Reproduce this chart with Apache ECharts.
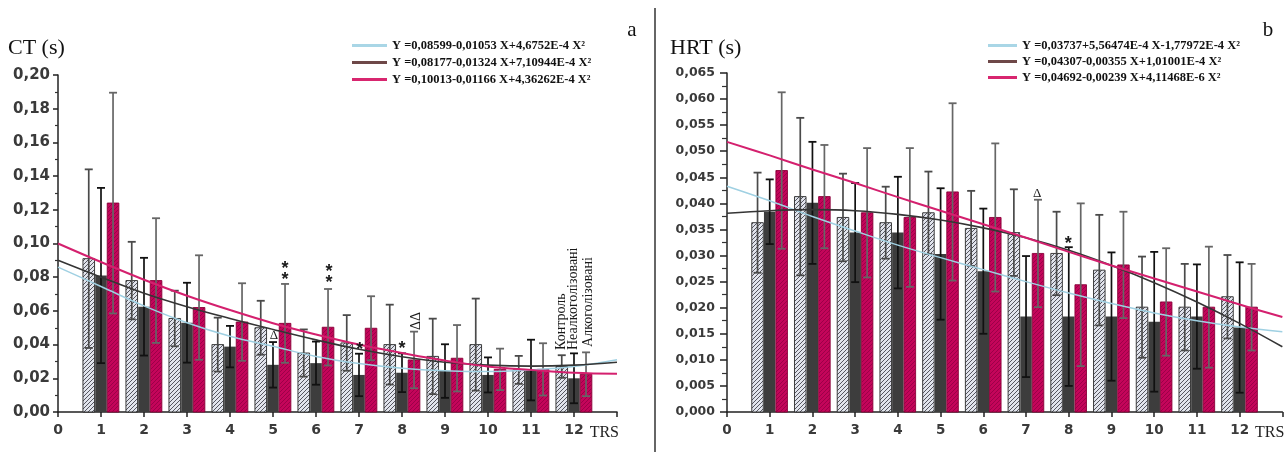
<!DOCTYPE html>
<html>
<head>
<meta charset="utf-8">
<script src="https://cdn.jsdelivr.net/npm/echarts@6/dist/echarts.min.js"></script>
<style>html,body{margin:0;padding:0;background:#fff}#c{width:1287px;height:452px}</style>
</head>
<body>
<div id="c"></div>
<script>
// ---------- data ----------
const trs = [1, 2, 3, 4, 5, 6, 7, 8, 9, 10, 11, 12];
const xTickLabels = ['0','1','2','3','4','5','6','7','8','9','10','11','12'];
const groupNames = ['Контроль', 'Неалкоголізовані', 'Алкоголізовані'];

// Panel a: CT (s)
const ctControl   = [0.091, 0.078, 0.0555, 0.040, 0.050, 0.035, 0.041, 0.040, 0.033, 0.040, 0.025, 0.027];
const ctControlSD = [0.053, 0.023, 0.0165, 0.016, 0.016, 0.014, 0.0165, 0.0237, 0.0224, 0.0273, 0.0083, 0.0067];
const ctNonAlc    = [0.081, 0.0625, 0.053, 0.0388, 0.028, 0.029, 0.022, 0.0233, 0.0243, 0.022, 0.0249, 0.020];
const ctNonAlcSD  = [0.052, 0.029, 0.0237, 0.0123, 0.0135, 0.0128, 0.0126, 0.0115, 0.0159, 0.0104, 0.018, 0.0148];
const ctAlc       = [0.124, 0.078, 0.062, 0.0534, 0.0526, 0.0503, 0.0497, 0.0309, 0.0319, 0.0253, 0.0253, 0.0224];
const ctAlcSD     = [0.0655, 0.037, 0.031, 0.023, 0.0234, 0.0227, 0.019, 0.0168, 0.0197, 0.0123, 0.0155, 0.013];

// Panel b: HRT (s)
const hrtControl   = [0.0363, 0.0413, 0.0373, 0.0363, 0.0382, 0.0352, 0.0344, 0.0304, 0.0272, 0.0201, 0.0201, 0.0221];
const hrtControlSD = [0.0096, 0.0151, 0.0084, 0.0069, 0.0079, 0.0072, 0.0083, 0.008, 0.0106, 0.0097, 0.0083, 0.008];
const hrtNonAlc    = [0.0384, 0.0401, 0.0344, 0.0344, 0.0303, 0.027, 0.0183, 0.0183, 0.0183, 0.0173, 0.0183, 0.0162];
const hrtNonAlcSD  = [0.0062, 0.0117, 0.0095, 0.0107, 0.0126, 0.012, 0.0116, 0.0133, 0.0123, 0.0134, 0.010, 0.0125];
const hrtAlc       = [0.0463, 0.0413, 0.0382, 0.0373, 0.0422, 0.0373, 0.0304, 0.0244, 0.0282, 0.0211, 0.0201, 0.0201];
const hrtAlcSD     = [0.015, 0.0099, 0.0124, 0.0133, 0.017, 0.0142, 0.0103, 0.0156, 0.0102, 0.0103, 0.0116, 0.0083];

// fitted curves at X = 0..13
const curveX = [0, 1, 2, 3, 4, 5, 6, 7, 8, 9, 10, 11, 12, 13];
const ctFitControl = [0.086, 0.0745, 0.063, 0.053, 0.045, 0.039, 0.033, 0.0288, 0.026, 0.0245, 0.024, 0.025, 0.027, 0.031];
const ctFitNonAlc  = [0.090, 0.080, 0.0705, 0.0625, 0.0555, 0.049, 0.0428, 0.0372, 0.0328, 0.0295, 0.0278, 0.0272, 0.0278, 0.0295];
const ctFitAlc     = [0.100, 0.089, 0.0785, 0.069, 0.0605, 0.0527, 0.046, 0.040, 0.035, 0.0305, 0.027, 0.025, 0.0233, 0.0227];
const hrtFitControl = [0.0433, 0.0405, 0.0375, 0.0347, 0.0320, 0.0296, 0.0273, 0.0250, 0.0228, 0.0208, 0.0190, 0.0175, 0.0163, 0.0154];
const hrtFitNonAlc  = [0.0381, 0.0386, 0.0388, 0.0386, 0.0379, 0.0368, 0.0353, 0.0334, 0.0310, 0.0281, 0.0248, 0.0211, 0.0170, 0.0125];
const hrtFitAlc     = [0.0518, 0.0492, 0.0465, 0.0439, 0.0412, 0.0386, 0.0360, 0.0334, 0.0307, 0.0281, 0.0256, 0.0231, 0.0206, 0.0182];

const legendA = ['Y =0,08599-0,01053 X+4,6752E-4 X²', 'Y =0,08177-0,01324 X+7,10944E-4 X²', 'Y =0,10013-0,01166 X+4,36262E-4 X²'];
const legendB = ['Y =0,03737+5,56474E-4 X-1,77972E-4 X²', 'Y =0,04307-0,00355 X+1,01001E-4 X²', 'Y =0,04692-0,00239 X+4,11468E-6 X²'];

// annotations: [x, y, text, kind]
const annA = [
  [5.02, 0.0455, 'Δ', 'delta'],
  [5.28, 0.0850, '*', 'star'], [5.28, 0.0785, '*', 'star'],
  [6.30, 0.0830, '*', 'star'], [6.30, 0.0768, '*', 'star'],
  [7.02, 0.0365, '*', 'star'],
  [8.00, 0.0372, '*', 'star'],
  [8.33, 0.0540, 'ΔΔ', 'deltaRot'],
  [11.71, 0.0368, groupNames[0], 'group'],
  [11.99, 0.0368, groupNames[1], 'group'],
  [12.33, 0.0386, groupNames[2], 'group']
];
const annB = [
  [7.26, 0.0419, 'Δ', 'delta'],
  [7.99, 0.0322, '*', 'star']
];

// ---------- styling helpers ----------
function hatch(bg, fg, step, lw) {
  const c = document.createElement('canvas');
  c.width = c.height = step;
  const g = c.getContext('2d');
  g.fillStyle = bg; g.fillRect(0, 0, step, step);
  g.strokeStyle = fg; g.lineWidth = lw;
  g.beginPath();
  g.moveTo(0, step); g.lineTo(step, 0);
  g.moveTo(-1, 1); g.lineTo(1, -1);
  g.moveTo(step - 1, step + 1); g.lineTo(step + 1, step - 1);
  g.stroke();
  return { image: c, repeat: 'repeat' };
}
const fillControl = hatch('#e1e4ec', '#55555f', 4, 1);
const fillAlc = hatch('#c4055a', '#9c0048', 4, 1);
const fillNonAlc = '#3d3d3d';

const BAR_W = 0.27;
const OFFS = [-0.285, 0, 0.28];

function zip3(x, m, s) { return x.map((v, i) => [v, m[i], s[i]]); }
function zip2(x, y) { return x.map((v, i) => [v, y[i]]); }

function barSeries(axis, data, k, fill, stroke, errColor) {
  return {
    type: 'custom', xAxisIndex: axis, yAxisIndex: axis, data: data, z: 2, silent: true,
    encode: { x: 0, y: 1 },
    renderItem: function (params, api) {
      const x = api.value(0) + OFFS[k], v = api.value(1), sd = api.value(2);
      const top = api.coord([x, v]), base = api.coord([x, 0]);
      const et = api.coord([x, v + sd]), eb = api.coord([x, v - sd]);
      const w = api.size([BAR_W, 0])[0];
      const cx = top[0], cap = 4;
      return {
        type: 'group',
        children: [
          { type: 'rect', shape: { x: cx - w / 2, y: top[1], width: w, height: base[1] - top[1] },
            style: { fill: fill, stroke: stroke, lineWidth: stroke ? 0.9 : 0 } },
          { type: 'line', shape: { x1: cx, y1: eb[1], x2: cx, y2: et[1] }, style: { stroke: errColor, lineWidth: 1.7 } },
          { type: 'line', shape: { x1: cx - cap, y1: et[1], x2: cx + cap, y2: et[1] }, style: { stroke: errColor, lineWidth: 1.8 } },
          { type: 'line', shape: { x1: cx - cap, y1: eb[1], x2: cx + cap, y2: eb[1] }, style: { stroke: errColor, lineWidth: 1.8 } }
        ]
      };
    }
  };
}

function curveSeries(axis, name, ys, color, width) {
  return {
    type: 'line', name: name, xAxisIndex: axis, yAxisIndex: axis, data: zip2(curveX, ys),
    smooth: 0.4, symbol: 'none', z: 6, silent: true, color: color,
    lineStyle: { color: color, width: width }
  };
}

const annFont = {
  star: 'bold 18px "Liberation Sans"',
  delta: '13px "Liberation Serif"',
  deltaRot: '14px "Liberation Serif"',
  group: '14px "Liberation Serif"'
};
function annSeries(axis, list) {
  return {
    type: 'custom', xAxisIndex: axis, yAxisIndex: axis, z: 10, silent: true,
    data: list.map(a => [a[0], a[1]]), encode: { x: 0, y: 1 },
    renderItem: function (params, api) {
      const a = list[params.dataIndex];
      const p = api.coord([a[0], a[1]]);
      const rot = (a[3] === 'group' || a[3] === 'deltaRot') ? Math.PI / 2 : 0;
      return {
        type: 'text', x: p[0], y: p[1], rotation: rot,
        style: { text: a[2], font: annFont[a[3]], fill: '#1a1a1a',
          align: a[3] === 'group' ? 'left' : 'center', verticalAlign: 'middle' }
      };
    }
  };
}

function xAxisCfg(idx, fs) {
  return {
    type: 'value', gridIndex: idx, min: 0, max: 13, interval: 1,
    name: 'TRS', nameLocation: 'end', nameGap: 0,
    nameTextStyle: { fontFamily: 'Liberation Serif', fontSize: 16, color: '#222', align: 'right', verticalAlign: 'top', padding: [13, 0, 0, 0] },
    axisLine: { show: true, onZero: false, lineStyle: { color: '#222', width: 1.5 } },
    axisTick: { show: true, length: 5, lineStyle: { color: '#222', width: 1.5 } },
    axisLabel: { margin: 11, fontFamily: 'DejaVu Sans', fontWeight: 'bold', fontSize: fs, color: '#3a3a3a',
      formatter: v => (v <= 12 ? xTickLabels[v] : '') },
    splitLine: { show: false }
  };
}
function yAxisCfg(idx, max, itv, dec, fs, tickLen, margin) {
  return {
    type: 'value', gridIndex: idx, min: 0, max: max, interval: itv,
    axisLine: { show: true, lineStyle: { color: '#222', width: 1.5 } },
    axisTick: { show: true, length: tickLen, lineStyle: { color: '#222', width: 1.5 } },
    minorTick: { show: true, splitNumber: 2, length: tickLen - 2, lineStyle: { color: '#333', width: 1.2 } },
    axisLabel: { margin: margin, fontFamily: 'DejaVu Sans', fontWeight: 'bold', fontSize: fs, color: '#3a3a3a',
      formatter: v => v.toFixed(dec).replace('.', ',') },
    splitLine: { show: false }
  };
}

const legendText = { fontFamily: 'Liberation Serif', fontSize: 12.5, fontWeight: 'bold', color: '#111', lineHeight: 12 };
const option = {
  backgroundColor: '#fff',
  animation: false,
  grid: [
    { left: 58, top: 75, width: 559, height: 337 },
    { left: 727, top: 73, width: 559, height: 339 }
  ],
  xAxis: [xAxisCfg(0, 14), xAxisCfg(1, 13.5)],
  yAxis: [yAxisCfg(0, 0.2, 0.02, 2, 15, 5, 8), yAxisCfg(1, 0.065, 0.005, 3, 12.5, 7, 12)],
  legend: [
    { left: 352, top: 39, padding: 0, orient: 'vertical', icon: 'rect', itemWidth: 35, itemHeight: 3, itemGap: 4,
      textStyle: legendText, selectedMode: false,
      data: [
        { name: legendA[0], itemStyle: { color: '#a9d6e6' } },
        { name: legendA[1], itemStyle: { color: '#6e4848' } },
        { name: legendA[2], itemStyle: { color: '#d8266f' } }
      ] },
    { left: 988, top: 39, padding: 0, orient: 'vertical', icon: 'rect', itemWidth: 29, itemHeight: 3, itemGap: 3,
      textStyle: legendText, selectedMode: false,
      data: [
        { name: legendB[0], itemStyle: { color: '#a9d6e6' } },
        { name: legendB[1], itemStyle: { color: '#6e4848' } },
        { name: legendB[2], itemStyle: { color: '#d8266f' } }
      ] }
  ],
  graphic: [
    { type: 'line', shape: { x1: 655, y1: 8, x2: 655, y2: 452 }, style: { stroke: '#666', lineWidth: 2 } },
    { type: 'text', x: 8, y: 48, style: { text: 'CT (s)', font: '22px "Liberation Serif"', fill: '#111', verticalAlign: 'middle' } },
    { type: 'text', x: 670, y: 48, style: { text: 'HRT (s)', font: '22px "Liberation Serif"', fill: '#111', verticalAlign: 'middle' } },
    { type: 'text', x: 632, y: 30, style: { text: 'a', font: '21px "Liberation Serif"', fill: '#111', align: 'center', verticalAlign: 'middle' } },
    { type: 'text', x: 1268, y: 30, style: { text: 'b', font: '21px "Liberation Serif"', fill: '#111', align: 'center', verticalAlign: 'middle' } }
  ],
  series: [
    barSeries(0, zip3(trs, ctControl, ctControlSD), 0, fillControl, '#2a2a2a', '#4a4a4a'),
    barSeries(0, zip3(trs, ctNonAlc, ctNonAlcSD), 1, fillNonAlc, null, '#111'),
    barSeries(0, zip3(trs, ctAlc, ctAlcSD), 2, fillAlc, '#8a0038', '#666'),
    curveSeries(0, legendA[0], ctFitControl, '#9fd0e2', 1.5),
    curveSeries(0, legendA[1], ctFitNonAlc, '#353535', 1.6),
    curveSeries(0, legendA[2], ctFitAlc, '#d4206e', 2),
    annSeries(0, annA),
    barSeries(1, zip3(trs, hrtControl, hrtControlSD), 0, fillControl, '#2a2a2a', '#4a4a4a'),
    barSeries(1, zip3(trs, hrtNonAlc, hrtNonAlcSD), 1, fillNonAlc, null, '#111'),
    barSeries(1, zip3(trs, hrtAlc, hrtAlcSD), 2, fillAlc, '#8a0038', '#666'),
    curveSeries(1, legendB[0], hrtFitControl, '#9fd0e2', 1.5),
    curveSeries(1, legendB[1], hrtFitNonAlc, '#353535', 1.6),
    curveSeries(1, legendB[2], hrtFitAlc, '#d4206e', 2),
    annSeries(1, annB)
  ]
};
const chart = echarts.init(document.getElementById('c'), null, { renderer: 'canvas' });
chart.setOption(option);
</script>
</body>
</html>
